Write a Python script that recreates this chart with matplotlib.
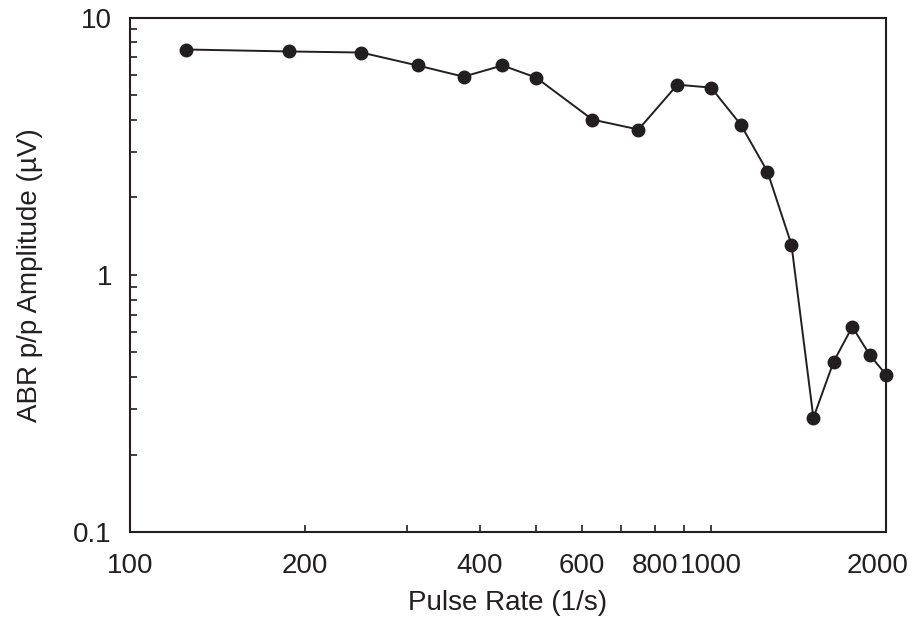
import matplotlib
matplotlib.use('Agg')
import matplotlib.pyplot as plt
import matplotlib.transforms as mtransforms
from matplotlib.ticker import FixedLocator, NullFormatter, NullLocator

plt.rcParams['font.family'] = ['Liberation Sans', 'DejaVu Sans']

# Pulse rate (1/s) and ABR peak-to-peak amplitude (uV)
pulse_rate = [125, 187.5, 250, 312.5, 375, 437.5, 500, 625, 750, 875,
              1000, 1125, 1250, 1375, 1500, 1625, 1750, 1875, 2000]
amplitude = [7.51, 7.38, 7.31, 6.51, 5.89, 6.51, 5.84, 4.01, 3.67, 5.48,
             5.34, 3.83, 2.52, 1.31, 0.278, 0.459, 0.628, 0.488, 0.409]

x_ticks = [100, 200, 300, 400, 500, 600, 700, 800, 900, 1000, 2000]
x_labels = ['100', '200', '', '400', '', '600', '', '800', '', '1000', '2000']
y_ticks = [0.1, 1, 10]
y_labels = ['0.1', '1', '10']

ink = '#231f20'

fig = plt.figure(figsize=(9.15, 6.21), dpi=100)
ax = fig.add_axes([0.1421, 0.1433, 0.8262, 0.8285])

ax.plot(pulse_rate, amplitude, '-o', color=ink, lw=1.4,
        markersize=9, markerfacecolor=ink, markeredgecolor=ink,
        clip_on=False, zorder=3)

ax.set_xscale('log')
ax.set_yscale('log')
ax.set_xlim(100, 2000)
ax.set_ylim(0.1, 10)

ax.xaxis.set_major_locator(FixedLocator(x_ticks))
ax.set_xticklabels(x_labels)
ax.xaxis.set_minor_locator(NullLocator())
ax.xaxis.set_minor_formatter(NullFormatter())

ax.set_yticks(y_ticks)
ax.set_yticklabels(y_labels)
y_minor = [m * d for d in (0.1, 1) for m in range(2, 10)]
ax.yaxis.set_minor_locator(FixedLocator(y_minor))
ax.yaxis.set_minor_formatter(NullFormatter())

for side in ax.spines.values():
    side.set_color(ink)
    side.set_linewidth(1.5)

ax.tick_params(axis='both', which='both', direction='in', color=ink,
               width=1.2, labelsize=20, labelcolor=ink, top=False, right=False)
ax.tick_params(axis='x', which='major', length=5, pad=15)
ax.tick_params(axis='y', which='major', length=5, pad=13)
ax.tick_params(axis='y', which='minor', length=5)

# nudge the last x label so it stays inside the figure
last = ax.get_xticklabels()[-1]
last.set_transform(last.get_transform() +
                   mtransforms.ScaledTranslation(-6 / 72, 0, fig.dpi_scale_trans))

ax.set_xlabel('Pulse Rate (1/s)', fontsize=20, color=ink)
ax.set_ylabel('ABR p/p Amplitude (\u00b5V)', fontsize=20, color=ink)
ax.xaxis.set_label_coords(0.5, -0.112)
ax.yaxis.set_label_coords(-0.115, 0.5)

fig.savefig('out.png', dpi=100)
